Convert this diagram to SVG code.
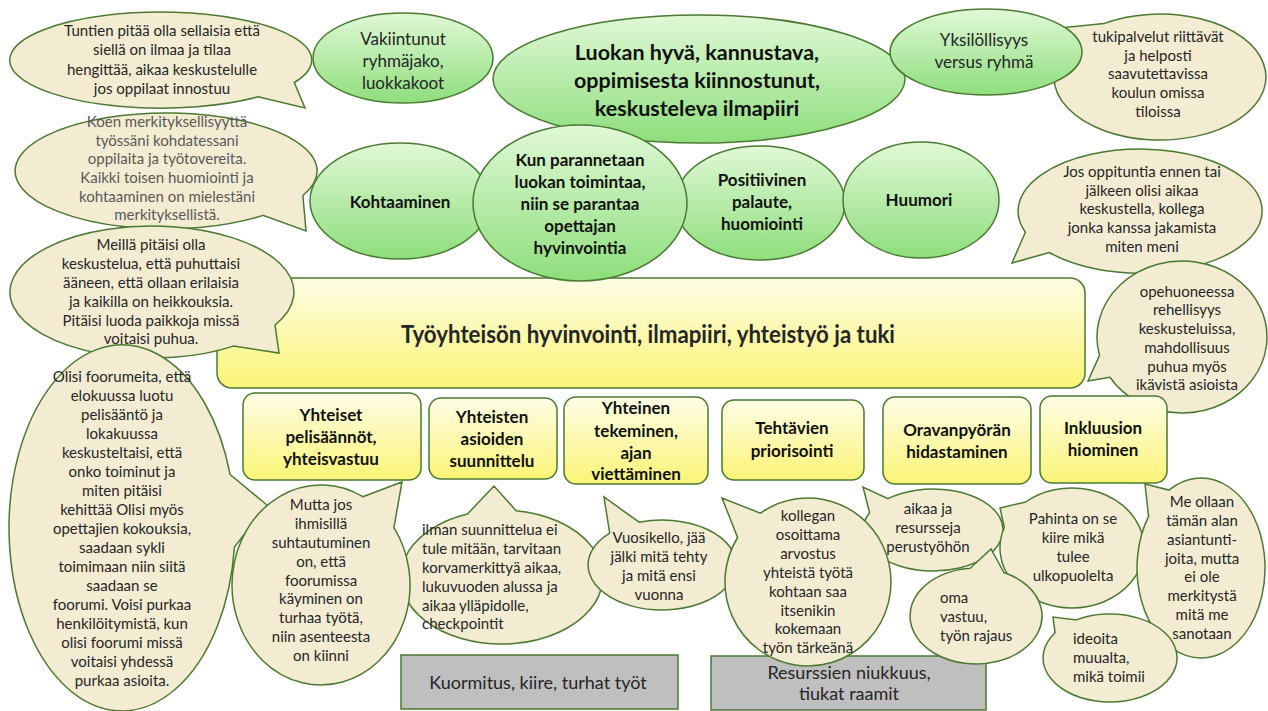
<svg xmlns="http://www.w3.org/2000/svg" width="1268" height="711" viewBox="0 0 1268 711">
<defs>
<linearGradient id="gg" x1="0" y1="0" x2="0" y2="1"><stop offset="0" stop-color="#e0f8d6"/><stop offset="1" stop-color="#8ede7c"/></linearGradient>
<linearGradient id="yg" x1="0" y1="0" x2="0" y2="1"><stop offset="0" stop-color="#fefde6"/><stop offset="1" stop-color="#fbf476"/></linearGradient>
<style>
.tan{fill:#f4ecd2;stroke:#4a7a30;stroke-width:1.5}
.grn{fill:url(#gg);stroke:#4a7a30;stroke-width:1.5}
.yb{fill:url(#yg);stroke:#4a7a30;stroke-width:1.5}
.gry{fill:#bfbfbf;stroke:#4a7a30;stroke-width:1.5}
text{font-family:Lato,"Liberation Sans",sans-serif;fill:#262626}
.t{font-size:15px;text-anchor:middle}
.tl{font-size:15px;text-anchor:start}
.g{font-size:17px;text-anchor:middle}
.b{font-size:17px;font-weight:bold;text-anchor:middle;fill:#111}
.big{font-size:21.5px;font-weight:bold;text-anchor:middle;fill:#111}
.gt{font-size:18px;text-anchor:middle}
.gray{fill:#595959}
</style>
</defs>
<rect width="1268" height="711" fill="#ffffff"/>

<g id="main-box">
<rect class="yb" x="217" y="278" width="868" height="110" rx="15"/>
<text x="648" y="343" font-size="25" font-weight="bold" text-anchor="middle" fill="#111" textLength="494" lengthAdjust="spacingAndGlyphs">Työyhteisön hyvinvointi, ilmapiiri, yhteistyö ja tuki</text>
</g>

<g id="bubble-tuntien">
<path class="tan" d="M294.3,82.5 L305,108 L258.1,96.8 A151,48 0 1 1 294.3,82.5 Z"/>
<text class="t"><tspan x="162" y="36">Tuntien pitää olla sellaisia että</tspan><tspan x="162" y="55">siellä on ilmaa ja tilaa</tspan><tspan x="162" y="75">hengittää, aikaa keskustelulle</tspan><tspan x="162" y="94">jos oppilaat innostuu</tspan></text>
</g>

<g id="bubble-koen">
<path class="tan" d="M302.9,195.5 L306,231 L263.1,215.4 A151,58 0 1 1 302.9,195.5 Z"/>
<text class="t gray"><tspan x="167" y="127">Koen merkityksellisyyttä</tspan><tspan x="167" y="146">työssäni kohdatessani</tspan><tspan x="167" y="164">oppilaita ja työtovereita.</tspan><tspan x="167" y="183">Kaikki toisen huomiointi ja</tspan><tspan x="167" y="202">kohtaaminen on mielestäni</tspan><tspan x="167" y="220">merkityksellistä.</tspan></text>
</g>

<g id="bubble-meilla">
<path class="tan" d="M275,325 L279,353 L233.5,346.1 A142,66 0 1 1 275,325 Z"/>
<text class="t"><tspan x="151" y="250">Meillä pitäisi olla</tspan><tspan x="151" y="269">keskustelua, että puhuttaisi</tspan><tspan x="151" y="288">ääneen, että ollaan erilaisia</tspan><tspan x="151" y="307">ja kaikilla on heikkouksia.</tspan><tspan x="151" y="326">Pitäisi luoda paikkoja missä</tspan><tspan x="151" y="344">voitaisi puhua.</tspan></text>
</g>

<g id="bubble-olisi">
<path class="tan" d="M230.1,474.5 L267,505 L234.4,547.1 A113,183 0 1 1 230.1,474.5 Z"/>
<text class="t"><tspan x="122" y="382">Olisi foorumeita, että</tspan><tspan x="122" y="401">elokuussa luotu</tspan><tspan x="122" y="420">pelisääntö ja</tspan><tspan x="122" y="439">lokakuussa</tspan><tspan x="122" y="458">keskusteltaisi, että</tspan><tspan x="122" y="477">onko toiminut ja</tspan><tspan x="122" y="496">miten pitäisi</tspan><tspan x="122" y="515">kehittää  Olisi myös</tspan><tspan x="122" y="534">opettajien kokouksia,</tspan><tspan x="122" y="553">saadaan sykli</tspan><tspan x="122" y="572">toimimaan niin siitä</tspan><tspan x="122" y="591">saadaan se</tspan><tspan x="122" y="610">foorumi.  Voisi purkaa</tspan><tspan x="122" y="629">henkilöitymistä, kun</tspan><tspan x="122" y="648">olisi foorumi missä</tspan><tspan x="122" y="667">voitaisi yhdessä</tspan><tspan x="122" y="686">purkaa asioita.</tspan></text>
</g>

<g id="node-vakiintunut">
<ellipse class="grn" cx="403" cy="58" rx="90" ry="45"/>
<text class="g"><tspan x="403" y="45">Vakiintunut</tspan><tspan x="403" y="67">ryhmäjako,</tspan><tspan x="403" y="89">luokkakoot</tspan></text>
</g>

<g id="node-luokan">
<ellipse class="grn" cx="699" cy="79" rx="206" ry="64"/>
<text class="big"><tspan x="697" y="60">Luokan hyvä, kannustava,</tspan><tspan x="697" y="88">oppimisesta kiinnostunut,</tspan><tspan x="697" y="116">keskusteleva ilmapiiri</tspan></text>
</g>

<g id="bubble-tukipalvelut">
<path class="tan" d="M1063.9,50.4 L1040,30 L1103.8,23.6 A106,63 0 1 1 1063.9,50.4 Z"/>
<text class="t"><tspan x="1158" y="42">tukipalvelut riittävät</tspan><tspan x="1158" y="61">ja helposti</tspan><tspan x="1158" y="79">saavutettavissa</tspan><tspan x="1158" y="98">koulun omissa</tspan><tspan x="1158" y="117">tiloissa</tspan></text>
</g>

<g id="node-yksilollisyys">
<ellipse class="grn" cx="986" cy="52" rx="96" ry="43"/>
<text class="g"><tspan x="984" y="46">Yksilöllisyys</tspan><tspan x="984" y="68">versus ryhmä</tspan></text>
</g>

<g id="node-kohtaaminen">
<ellipse class="grn" cx="400" cy="201" rx="90" ry="58"/>
<text class="b" x="400" y="208">Kohtaaminen</text>
</g>

<g id="node-positiivinen">
<ellipse class="grn" cx="760" cy="203" rx="85" ry="57"/>
<text class="b"><tspan x="762" y="186">Positiivinen</tspan><tspan x="762" y="208">palaute,</tspan><tspan x="762" y="230">huomiointi</tspan></text>
</g>

<g id="node-kun">
<ellipse class="grn" cx="580" cy="203" rx="107" ry="78"/>
<text class="b"><tspan x="580" y="166">Kun parannetaan</tspan><tspan x="580" y="188">luokan toimintaa,</tspan><tspan x="580" y="210">niin se parantaa</tspan><tspan x="580" y="232">opettajan</tspan><tspan x="580" y="254">hyvinvointia</tspan></text>
</g>

<g id="node-huumori">
<ellipse class="grn" cx="921" cy="200" rx="78" ry="58"/>
<text class="b" x="919" y="206">Huumori</text>
</g>

<g id="bubble-jos">
<path class="tan" d="M1049.3,252.5 L1012,263 L1025.4,232.2 A122,62 0 1 1 1049.3,252.5 Z"/>
<text class="t"><tspan x="1142" y="177">Jos oppituntia ennen tai</tspan><tspan x="1142" y="196">jälkeen olisi aikaa</tspan><tspan x="1142" y="214">keskustella, kollega</tspan><tspan x="1142" y="233">jonka kanssa jakamista</tspan><tspan x="1142" y="252">miten meni</tspan></text>
</g>

<g id="bubble-opehuone">
<path class="tan" d="M1109.9,377.3 L1088,381 L1099.5,355.4 A85,76 0 1 1 1109.9,377.3 Z"/>
<text class="t"><tspan x="1187" y="297">opehuoneessa</tspan><tspan x="1187" y="315">rehellisyys</tspan><tspan x="1187" y="334">keskusteluissa,</tspan><tspan x="1187" y="353">mahdollisuus</tspan><tspan x="1187" y="372">puhua myös</tspan><tspan x="1187" y="390">ikävistä asioista</tspan></text>
</g>

<g id="box-yhteiset">
<rect class="yb" x="243" y="393" width="178" height="87" rx="12"/>
<text class="b"><tspan x="331" y="421">Yhteiset</tspan><tspan x="331" y="443">pelisäännöt,</tspan><tspan x="331" y="465">yhteisvastuu</tspan></text>
</g>
<g id="box-yhteisten">
<rect class="yb" x="429" y="398" width="128" height="81" rx="12"/>
<text class="b"><tspan x="492" y="423">Yhteisten</tspan><tspan x="492" y="445">asioiden</tspan><tspan x="492" y="467">suunnittelu</tspan></text>
</g>
<g id="box-yhteinen">
<rect class="yb" x="564" y="397" width="144" height="87" rx="12"/>
<text class="b"><tspan x="636" y="414">Yhteinen</tspan><tspan x="636" y="437">tekeminen,</tspan><tspan x="636" y="459">ajan</tspan><tspan x="636" y="480">viettäminen</tspan></text>
</g>
<g id="box-tehtavien">
<rect class="yb" x="722" y="400" width="142" height="80" rx="12"/>
<text class="b"><tspan x="792" y="434">Tehtävien</tspan><tspan x="792" y="457">priorisointi</tspan></text>
</g>
<g id="box-oravanpyora">
<rect class="yb" x="883" y="397" width="148" height="87" rx="12"/>
<text class="b"><tspan x="957" y="436">Oravanpyörän</tspan><tspan x="957" y="458">hidastaminen</tspan></text>
</g>
<g id="box-inkluusio">
<rect class="yb" x="1040" y="396" width="127" height="87" rx="12"/>
<text class="b"><tspan x="1103" y="434">Inkluusion</tspan><tspan x="1103" y="456">hiominen</tspan></text>
</g>

<g id="box-kuormitus">
<rect class="gry" x="401" y="655" width="277" height="54"/>
<text class="gt" x="538" y="689">Kuormitus, kiire, turhat työt</text>
</g>
<g id="box-resurssit">
<rect class="gry" x="711" y="656" width="275" height="54"/>
<text class="gt"><tspan x="849" y="679">Resurssien  niukkuus,</tspan><tspan x="849" y="700">tiukat raamit</tspan></text>
</g>

<g id="bubble-ilman">
<path class="tan" d="M467.5,514 L494,486 L516.1,510.7 A101,67 0 1 1 467.5,514 Z"/>
<text class="tl"><tspan x="422" y="535">ilman suunnittelua ei</tspan><tspan x="422" y="554">tule mitään, tarvitaan</tspan><tspan x="422" y="573">korvamerkittyä aikaa,</tspan><tspan x="422" y="592">lukuvuoden alussa ja</tspan><tspan x="422" y="611">aikaa ylläpidolle,</tspan><tspan x="422" y="629">checkpointit</tspan></text>
</g>

<g id="bubble-mutta">
<path class="tan" d="M362.8,496.7 L402,482 L393.9,527.6 A89,100 0 1 1 362.8,496.7 Z"/>
<text class="t"><tspan x="321" y="510">Mutta jos</tspan><tspan x="321" y="529">ihmisillä</tspan><tspan x="321" y="548">suhtautuminen</tspan><tspan x="321" y="567">on, että</tspan><tspan x="321" y="586">foorumissa</tspan><tspan x="321" y="604">käyminen on</tspan><tspan x="321" y="623">turhaa työtä,</tspan><tspan x="321" y="642">niin asenteesta</tspan><tspan x="321" y="661">on kiinni</tspan></text>
</g>

<g id="bubble-vuosikello">
<path class="tan" d="M609.7,533.2 L604,497 L639.1,522.2 A74,45 0 1 1 609.7,533.2 Z"/>
<text class="t"><tspan x="659" y="543">Vuosikello, jää</tspan><tspan x="659" y="562">jälki mitä tehty</tspan><tspan x="659" y="581">ja mitä ensi</tspan><tspan x="659" y="600">vuonna</tspan></text>
</g>

<g id="bubble-aikaa">
<path class="tan" d="M869.6,512.7 L863,487 L888,498.6 A70,41 0 1 1 869.6,512.7 Z"/>
<text class="t"><tspan x="928" y="514">aikaa ja</tspan><tspan x="928" y="533">resursseja</tspan><tspan x="928" y="552">perustyöhön</tspan></text>
</g>

<g id="bubble-kollegan">
<path class="tan" d="M737.6,537.5 L722,498 L760.4,513.2 A83,84 0 1 1 737.6,537.5 Z"/>
<text class="t"><tspan x="808" y="521">kollegan</tspan><tspan x="808" y="540">osoittama</tspan><tspan x="808" y="559">arvostus</tspan><tspan x="808" y="578">yhteistä työtä</tspan><tspan x="808" y="597">kohtaan saa</tspan><tspan x="808" y="616">itsenikin</tspan><tspan x="808" y="634">kokemaan</tspan><tspan x="808" y="653">työn tärkeänä</tspan></text>
</g>

<g id="bubble-pahinta">
<path class="tan" d="M1004.3,527.5 L1000,508 L1025.7,502 A72,60 0 1 1 1004.3,527.5 Z"/>
<text class="t"><tspan x="1073" y="524">Pahinta on se</tspan><tspan x="1073" y="543">kiire mikä</tspan><tspan x="1073" y="562">tulee</tspan><tspan x="1073" y="581">ulkopuolelta</tspan></text>
</g>

<g id="bubble-oma">
<path class="tan" d="M970.2,568.2 L991,549 L1003.9,572.5 A66,48 0 1 1 970.2,568.2 Z"/>
<text class="tl"><tspan x="940" y="603">oma</tspan><tspan x="940" y="622">vastuu,</tspan><tspan x="940" y="641">työn rajaus</tspan></text>
</g>

<g id="bubble-me">
<path class="tan" d="M1148.6,516.4 L1145,484 L1169,490.1 A64,90 0 1 1 1148.6,516.4 Z"/>
<text class="t"><tspan x="1202" y="507">Me ollaan</tspan><tspan x="1202" y="526">tämän alan</tspan><tspan x="1202" y="545">asiantunti-</tspan><tspan x="1202" y="564">joita, mutta</tspan><tspan x="1202" y="582">ei ole</tspan><tspan x="1202" y="601">merkitystä</tspan><tspan x="1202" y="620">mitä me</tspan><tspan x="1202" y="639">sanotaan</tspan></text>
</g>

<g id="bubble-ideoita">
<path class="tan" d="M1055.1,632.8 L1053,617 L1076.5,619.9 A67,44 0 1 1 1055.1,632.8 Z"/>
<text class="tl"><tspan x="1073" y="644">ideoita</tspan><tspan x="1073" y="663">muualta,</tspan><tspan x="1073" y="682">mikä toimii</tspan></text>
</g>

<g id="connectors"></g>
</svg>
